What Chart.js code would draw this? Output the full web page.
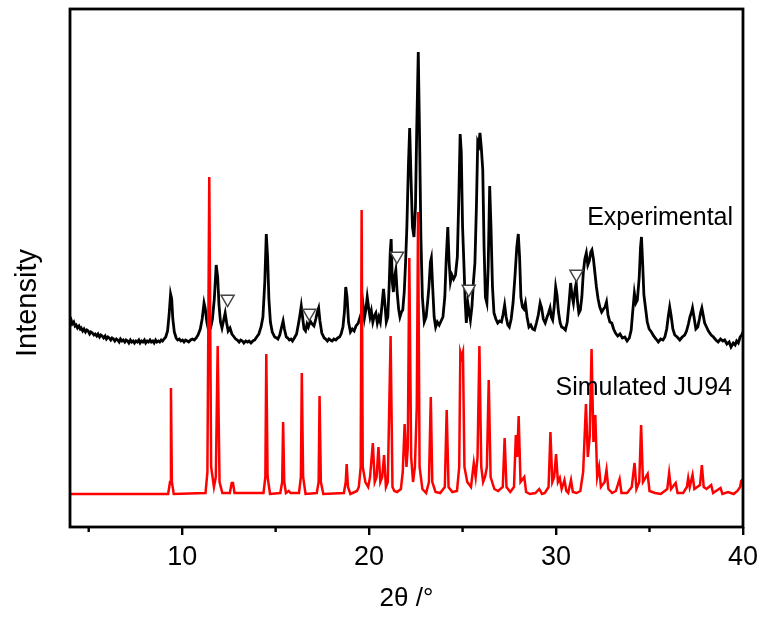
<!DOCTYPE html>
<html>
<head>
<meta charset="utf-8">
<title>JU94 powder pattern</title>
<script src="https://cdn.jsdelivr.net/npm/chart.js@4.4.1/dist/chart.umd.min.js"></script>
<style>
  html, body { margin: 0; padding: 0; background: #ffffff; }
  canvas { display: block; }
</style>
</head>
<body>
<canvas id="xrd-chart" width="764" height="619"></canvas>
<script>
"use strict";

// measured pattern, [2theta, counts] (arbitrary units, offset above the simulated trace)
const expPattern = [
  [4.00, 205], [4.06, 207], [4.12, 203], [4.20, 205], [4.27, 201], [4.33, 202], [4.40, 199], [4.48, 201],
  [4.55, 198], [4.60, 199], [4.68, 196], [4.75, 198], [4.83, 195], [4.90, 197], [4.97, 196], [5.05, 193],
  [5.12, 195], [5.20, 194], [5.28, 192], [5.35, 193], [5.43, 191], [5.50, 193], [5.58, 190], [5.65, 192],
  [5.72, 191], [5.80, 189], [5.88, 191], [5.95, 188], [6.03, 190], [6.10, 189], [6.18, 187], [6.25, 189],
  [6.33, 188], [6.40, 186], [6.48, 188], [6.55, 187], [6.63, 185], [6.70, 188], [6.78, 186], [6.85, 187],
  [6.93, 185], [7.00, 187], [7.08, 186], [7.15, 184], [7.23, 187], [7.30, 185], [7.38, 186], [7.45, 184],
  [7.53, 186], [7.60, 185], [7.68, 187], [7.75, 184], [7.83, 186], [7.90, 185], [7.98, 187], [8.05, 184],
  [8.13, 186], [8.20, 185], [8.28, 187], [8.35, 185], [8.43, 186], [8.50, 184], [8.58, 187], [8.65, 185],
  [8.73, 186], [8.80, 185], [8.88, 187], [8.95, 186], [9.03, 188], [9.12, 190], [9.22, 196], [9.30, 212],
  [9.38, 233], [9.44, 228], [9.50, 208], [9.58, 195], [9.68, 189], [9.76, 187], [9.85, 188], [9.93, 186],
  [10.02, 187], [10.10, 185], [10.18, 187], [10.27, 186], [10.35, 185], [10.45, 187], [10.55, 188], [10.65, 187],
  [10.75, 189], [10.85, 192], [10.97, 198], [11.07, 208], [11.17, 224], [11.24, 218], [11.32, 205],
  [11.42, 196], [11.52, 199], [11.62, 208], [11.72, 228], [11.82, 262], [11.90, 250], [11.97, 222], [12.05, 205],
  [12.13, 199], [12.22, 207], [12.30, 214], [12.38, 204], [12.46, 196], [12.56, 199], [12.66, 193], [12.78, 190],
  [12.86, 188], [12.95, 187], [13.05, 185], [13.13, 187], [13.22, 186], [13.30, 184], [13.40, 186], [13.50, 185],
  [13.58, 186], [13.68, 184], [13.78, 186], [13.88, 187], [13.95, 189],
  [14.10, 193], [14.22, 200], [14.32, 210], [14.42, 245], [14.50, 293], [14.57, 270], [14.64, 228], [14.72, 205],
  [14.82, 195], [14.95, 190], [15.05, 189], [15.12, 188], [15.22, 192], [15.32, 200], [15.40, 206], [15.47, 198],
  [15.57, 190], [15.65, 189], [15.73, 187], [15.82, 188], [15.90, 186], [16.00, 189], [16.12, 193], [16.22, 203],
  [16.30, 212], [16.37, 221], [16.44, 210],
  [16.52, 198], [16.60, 196], [16.68, 203], [16.75, 200], [16.85, 206], [16.95, 203], [17.05, 201], [17.15, 208],
  [17.23, 215], [17.30, 219], [17.37, 206], [17.47, 194], [17.60, 189], [17.68, 188], [17.77, 186], [17.85, 188],
  [17.93, 187], [18.02, 186], [18.12, 188], [18.22, 187], [18.32, 189], [18.42, 190], [18.50, 193], [18.60, 200],
  [18.68, 215], [18.75, 240], [18.82, 230], [18.90, 205],
  [19.00, 195], [19.10, 198], [19.20, 196], [19.30, 201], [19.42, 204], [19.52, 210], [19.60, 205], [19.68, 221],
  [19.75, 209], [19.83, 218], [19.90, 230], [19.97, 220], [20.05, 210], [20.12, 216], [20.20, 205], [20.28, 211],
  [20.36, 214], [20.44, 204], [20.52, 210], [20.60, 205], [20.68, 220], [20.77, 238], [20.85, 222], [20.92, 205],
  [21.00, 210], [21.07, 240], [21.13, 275], [21.18, 288], [21.24, 245], [21.30, 235], [21.36, 250], [21.43, 257],
  [21.50, 235], [21.58, 218], [21.65, 210], [21.73, 215], [21.80, 217], [21.88, 235], [21.95, 264], [22.02, 300],
  [22.10, 360], [22.17, 399], [22.24, 350], [22.32, 300], [22.40, 290], [22.48, 320], [22.55, 400], [22.63, 475],
  [22.70, 390], [22.77, 290], [22.85, 230], [22.95, 205], [23.05, 210], [23.13, 225], [23.20, 240], [23.28, 265],
  [23.33, 269], [23.40, 240], [23.48, 210], [23.56, 200], [23.65, 205], [23.75, 202], [23.85, 206], [23.95, 210],
  [24.05, 230], [24.13, 270], [24.21, 300], [24.28, 265], [24.35, 245], [24.43, 252], [24.52, 248], [24.62, 252],
  [24.72, 270], [24.80, 330], [24.87, 393], [24.93, 375], [25.00, 300], [25.07, 264], [25.14, 225], [25.20, 204],
  [25.28, 224], [25.35, 215], [25.42, 207], [25.50, 220], [25.58, 245], [25.66, 264], [25.74, 320], [25.81, 385],
  [25.87, 382], [25.93, 394], [26.00, 380], [26.08, 357], [26.15, 280], [26.22, 230], [26.30, 224], [26.37, 260],
  [26.45, 341], [26.52, 300], [26.60, 240], [26.68, 214], [26.78, 208], [26.88, 204], [26.98, 206], [27.08, 205],
  [27.16, 212], [27.25, 222], [27.33, 210], [27.42, 202], [27.50, 200], [27.60, 208], [27.70, 224], [27.80, 250],
  [27.90, 280], [27.98, 293], [28.05, 270], [28.12, 230], [28.20, 220], [28.28, 218], [28.36, 224], [28.45, 210],
  [28.55, 200], [28.65, 202], [28.75, 198], [28.85, 197], [28.95, 204], [29.05, 212], [29.15, 224], [29.23, 219],
  [29.32, 208], [29.42, 204], [29.52, 210], [29.60, 214], [29.68, 219], [29.75, 210], [29.82, 207], [29.90, 220],
  [29.98, 240], [30.05, 232], [30.13, 215], [30.22, 204], [30.30, 200], [30.40, 199], [30.50, 197], [30.60, 205],
  [30.70, 225], [30.78, 244], [30.85, 232], [30.93, 224], [31.02, 238], [31.08, 244], [31.15, 225], [31.22, 214],
  [31.30, 217], [31.38, 230], [31.46, 255], [31.54, 268], [31.62, 274], [31.70, 262], [31.78, 266], [31.86, 275],
  [31.92, 277], [32.00, 268], [32.08, 254], [32.16, 240], [32.25, 228], [32.34, 220], [32.44, 215], [32.54, 218],
  [32.62, 220], [32.70, 225], [32.78, 212], [32.88, 205], [32.98, 204], [33.08, 198], [33.18, 194], [33.30, 191],
  [33.42, 193], [33.55, 189], [33.68, 190], [33.80, 186], [33.92, 189], [34.02, 197], [34.10, 215], [34.19, 234],
  [34.27, 224], [34.35, 227], [34.45, 250], [34.52, 280], [34.57, 290], [34.63, 265], [34.70, 232], [34.78, 220],
  [34.88, 205], [34.98, 198], [35.10, 195], [35.22, 191], [35.35, 188], [35.47, 185], [35.60, 188], [35.72, 187],
  [35.82, 190], [35.92, 198], [36.00, 210], [36.08, 220], [36.15, 212], [36.25, 198], [36.35, 192], [36.48, 190],
  [36.62, 187], [36.75, 190], [36.88, 192], [36.98, 196], [37.08, 203], [37.16, 210], [37.25, 215], [37.30, 219],
  [37.38, 210], [37.48, 198], [37.58, 200], [37.67, 208], [37.74, 215], [37.80, 219], [37.87, 212], [37.95, 204],
  [38.05, 200], [38.15, 196], [38.30, 192], [38.42, 190], [38.55, 187], [38.67, 185], [38.80, 188], [38.92, 186],
  [39.02, 187], [39.14, 183], [39.26, 185], [39.36, 180], [39.48, 184], [39.58, 182], [39.66, 186], [39.75, 184],
  [39.85, 190], [39.93, 192], [40.00, 195],
];

// pattern calculated from the JU94 structure, [2theta, counts]
const simPattern = [
  [4.00, 33], [9.25, 33], [9.35, 45], [9.40, 139], [9.45, 45], [9.55, 33],
  [11.25, 34], [11.35, 55], [11.45, 350], [11.55, 60], [11.70, 40], [11.80, 50], [11.90, 181], [12.00, 45], [12.15, 34],
  [12.55, 34], [12.65, 44], [12.72, 44], [12.80, 34],
  [14.35, 34], [14.45, 50], [14.50, 173], [14.57, 50], [14.70, 33],
  [15.25, 34], [15.35, 45], [15.40, 105], [15.46, 45], [15.55, 34], [15.70, 36], [15.80, 34],
  [16.25, 34], [16.35, 50], [16.40, 154], [16.47, 50], [16.60, 33],
  [17.20, 34], [17.30, 45], [17.35, 131], [17.42, 45], [17.55, 33],
  [18.65, 34], [18.75, 45], [18.80, 63], [18.87, 40], [19.00, 33],
  [19.35, 36], [19.45, 40], [19.55, 60], [19.60, 317], [19.66, 60], [19.80, 45], [19.95, 40], [20.05, 50],
  [20.20, 84], [20.30, 45], [20.40, 50], [20.50, 80], [20.60, 45], [20.70, 50], [20.80, 72], [20.90, 40],
  [21.00, 45], [21.15, 191], [21.25, 40], [21.35, 36], [21.50, 35], [21.70, 38], [21.80, 55], [21.90, 103],
  [22.00, 60], [22.07, 80], [22.15, 269], [22.25, 70], [22.35, 45], [22.45, 60], [22.55, 120], [22.62, 315],
  [22.70, 60], [22.85, 38], [23.05, 34], [23.20, 45], [23.30, 130], [23.38, 45], [23.55, 35], [23.80, 34],
  [24.05, 40], [24.15, 117], [24.25, 40], [24.45, 35], [24.70, 36], [24.82, 60], [24.88, 175], [24.95, 170],
  [25.02, 175], [25.10, 60], [25.25, 45], [25.45, 40], [25.60, 64], [25.70, 50], [25.80, 70], [25.90, 181],
  [26.00, 60], [26.10, 45], [26.20, 50], [26.30, 60], [26.40, 147], [26.50, 50], [26.70, 38], [26.90, 36],
  [27.15, 40], [27.25, 89], [27.35, 40], [27.55, 35], [27.75, 40], [27.85, 92], [27.92, 70], [28.00, 111],
  [28.10, 45], [28.30, 50], [28.40, 35], [28.60, 33], [28.90, 34], [29.10, 38], [29.25, 33], [29.40, 34],
  [29.60, 40], [29.70, 95], [29.80, 45], [29.90, 50], [30.00, 73], [30.10, 45], [30.20, 49], [30.30, 38],
  [30.45, 47], [30.55, 36], [30.65, 34], [30.80, 47], [30.90, 35], [31.10, 34], [31.30, 36], [31.45, 55],
  [31.60, 123], [31.70, 70], [31.80, 90], [31.90, 178], [32.00, 85], [32.10, 112], [32.20, 50], [32.30, 60],
  [32.40, 40], [32.60, 45], [32.70, 57], [32.80, 38], [33.00, 34], [33.20, 36], [33.40, 48], [33.50, 34],
  [33.80, 34], [34.05, 40], [34.20, 64], [34.30, 38], [34.45, 45], [34.55, 102], [34.65, 45], [34.90, 53],
  [35.00, 36], [35.30, 34], [35.60, 33], [35.95, 38], [36.05, 54], [36.15, 38], [36.40, 44], [36.50, 34],
  [36.80, 34], [37.00, 40], [37.07, 49], [37.15, 40], [37.30, 52], [37.40, 38], [37.70, 42], [37.80, 62],
  [37.90, 40], [38.05, 38], [38.30, 42], [38.40, 34], [38.80, 39], [38.90, 33], [39.20, 35], [39.50, 33],
  [39.70, 36], [39.85, 40], [39.90, 46], [40.00, 48],
];

// reflections not accounted for by JU94
const impurityAngle = [12.43, 16.8, 21.49, 25.33, 31.09];
const impurityCounts = [228, 214, 271, 238, 253];

const majorTicks = [10, 20, 30, 40];
const minorTicks = [5, 15, 25, 35];

const toPoints = (pairs) => pairs.map(([x, y]) => ({ x: x, y: y }));

const fontFamily = "'Liberation Sans', Arial, sans-serif";

// text placed next to each trace, anchored at its right end
const traceCaptions = [
  { text: "Experimental", angle: 39.47, counts: 309 },
  { text: "Simulated JU94", angle: 39.41, counts: 139 },
];

const framePlugin = {
  id: "framePlugin",
  afterDatasetsDraw(chart) {
    const { ctx, chartArea, scales } = chart;
    const x = scales.x;
    const y = scales.y;
    ctx.save();

    // captions
    ctx.fillStyle = "#000";
    ctx.font = "25px " + fontFamily;
    ctx.textAlign = "right";
    ctx.textBaseline = "middle";
    traceCaptions.forEach((c) => {
      ctx.fillText(c.text, x.getPixelForValue(c.angle), y.getPixelForValue(c.counts));
    });

    // box round the plot
    ctx.strokeStyle = "#000";
    ctx.lineWidth = 2.8;
    ctx.strokeRect(
      chartArea.left,
      chartArea.top,
      chartArea.right - chartArea.left,
      chartArea.bottom - chartArea.top,
    );

    // short minor ticks under the bottom edge
    ctx.lineWidth = 2.4;
    minorTicks.forEach((v) => {
      const px = x.getPixelForValue(v);
      ctx.beginPath();
      ctx.moveTo(px, chartArea.bottom);
      ctx.lineTo(px, chartArea.bottom + 5);
      ctx.stroke();
    });

    // y axis title
    ctx.font = "29px " + fontFamily;
    ctx.textAlign = "center";
    ctx.textBaseline = "middle";
    ctx.translate(28, 303);
    ctx.rotate(-Math.PI / 2);
    ctx.fillText("Intensity", 0, 0);
    ctx.restore();
  },
};

const xrdChart = new Chart(document.getElementById("xrd-chart"), {
  type: "line",
  data: {
    datasets: [
      {
        label: "Impurity",
        type: "scatter",
        data: impurityAngle.map((a, i) => ({ x: a, y: impurityCounts[i] })),
        pointStyle: "triangle",
        rotation: 180,
        pointRadius: 7.5,
        backgroundColor: "#ffffff",
        borderColor: "#444444",
        borderWidth: 1.5,
        order: 0,
      },
      {
        label: "Simulated JU94",
        data: toPoints(simPattern),
        borderColor: "#ff0000",
        borderWidth: 2.5,
        pointRadius: 0,
        tension: 0,
        order: 1,
      },
      {
        label: "Experimental",
        data: toPoints(expPattern),
        borderColor: "#000000",
        borderWidth: 2.8,
        pointRadius: 0,
        tension: 0,
        order: 2,
      },
    ],
  },
  options: {
    responsive: false,
    animation: false,
    layout: { padding: { top: 9, right: 20, left: 0, bottom: 0 } },
    plugins: {
      legend: { display: false },
      tooltip: { enabled: false },
    },
    scales: {
      x: {
        type: "linear",
        min: 4,
        max: 40,
        afterBuildTicks: (scale) => {
          scale.ticks = majorTicks.map((v) => ({ value: v }));
        },
        afterFit: (scale) => {
          scale.height = 92;
        },
        ticks: {
          color: "#000",
          padding: 6,
          maxRotation: 0,
          font: { family: fontFamily, size: 27 },
        },
        grid: {
          drawOnChartArea: false,
          drawTicks: true,
          tickLength: 8,
          lineWidth: 2.4,
          color: "#000",
        },
        border: { display: false },
        title: {
          display: true,
          text: "2θ /°",
          color: "#000",
          padding: { top: 0, bottom: 5 },
          font: { family: fontFamily, size: 26 },
        },
      },
      y: {
        type: "linear",
        min: 0,
        max: 518,
        afterFit: (scale) => {
          scale.width = 70;
        },
        ticks: { display: false },
        grid: { display: false, drawTicks: false },
        border: { display: false },
      },
    },
  },
  plugins: [framePlugin],
});
</script>
</body>
</html>
